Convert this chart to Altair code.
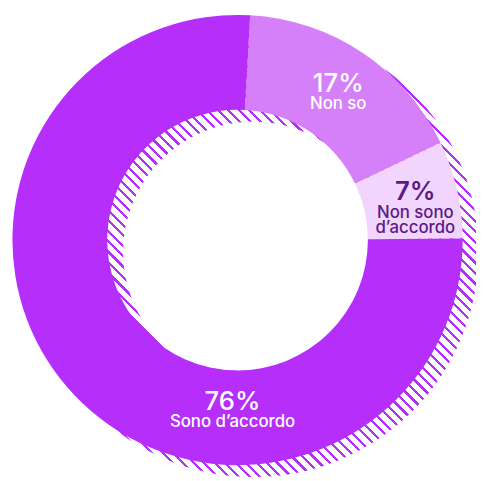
import math
import altair as alt
import pandas as pd

# ---- data ----
categories = ["Non so", "Non sono d’accordo", "Sono d’accordo"]
display_names = ["Non so", "Non sono\nd’accordo", "Sono d’accordo"]
shares = [17, 7, 76]
colors = ["#D57FF9", "#F2D5FC", "#B62EFA"]
text_colors = ["#FFFFFF", "#5B1A86", "#FFFFFF"]
pct_weights = [500, 600, 500]

df = pd.DataFrame({
    "category": categories,
    "name": display_names,
    "share": shares,
    "pct": [f"{v}%" for v in shares],
    "order": list(range(len(categories))),
})

# ---- layout ----
CX, CY = 232.5, 232.0
R_OUT, R_IN = 228, 132
START = 0.056
SHADOW_DX, SHADOW_DY = 16, 12
STRIPE = "#B62EFA"

# diagonal hatch via hard-stop gradient
period = 7.5
span = 2 * R_OUT * math.sqrt(2)
n = round(span / period)
frac = 0.3
stops = []
for k in range(n):
    a = k / n
    b = (k + frac) / n
    c = (k + 1) / n
    stops += [
        alt.GradientStop(offset=a, color=STRIPE),
        alt.GradientStop(offset=b, color=STRIPE),
        alt.GradientStop(offset=b, color="#FFFFFF"),
        alt.GradientStop(offset=c, color="#FFFFFF"),
    ]
hatch = alt.LinearGradient(gradient="linear", stops=stops, x1=0, y1=1, x2=1, y2=0)

shadow = alt.Chart(pd.DataFrame({"k": [0]})).mark_arc(
    theta=0, theta2=2 * math.pi, innerRadius=R_IN, outerRadius=R_OUT,
    fill=hatch, strokeWidth=0,
).encode(x=alt.value(CX + SHADOW_DX), y=alt.value(CY + SHADOW_DY))

donut = alt.Chart(df).mark_arc(innerRadius=R_IN, outerRadius=R_OUT, strokeWidth=0).encode(
    theta=alt.Theta("share:Q", stack=True,
                    scale=alt.Scale(range=[START, START + 2 * math.pi])),
    color=alt.Color("category:N", scale=alt.Scale(domain=categories, range=colors), legend=None),
    order=alt.Order("order:Q"),
    x=alt.value(CX), y=alt.value(CY),
)

label_layout = {
    "Non so": (0.597, 181.4, 17),
    "Non sono d’accordo": (1.348, 184.6, 18),
    "Sono d’accordo": (3.171, 172.1, 17),
}

FONT = "Inter"
layers = [shadow, donut]
for cat, tcol, w in zip(categories, text_colors, pct_weights):
    th, rad, dyn = label_layout[cat]
    base = alt.Chart(df).transform_filter(alt.datum.category == cat)
    pct = base.mark_text(
        theta=th, radius=rad, font=FONT, fontSize=26, fontWeight=w,
        color=tcol, align="center", baseline="alphabetic",
    ).encode(text="pct:N", x=alt.value(CX), y=alt.value(CY))
    name = base.mark_text(
        theta=th, radius=rad, dy=dyn, font=FONT, fontSize=17, fontWeight=500,
        color=tcol, align="center", baseline="alphabetic", lineBreak="\n", lineHeight=15.5,
    ).encode(text="name:N", x=alt.value(CX), y=alt.value(CY))
    layers += [pct, name]

chart = alt.layer(*layers).properties(
    width=474, height=472, padding=0, autosize="none"
).configure_view(stroke=None)

chart.save("out.html", embed_options={"renderer": "svg", "actions": False})
